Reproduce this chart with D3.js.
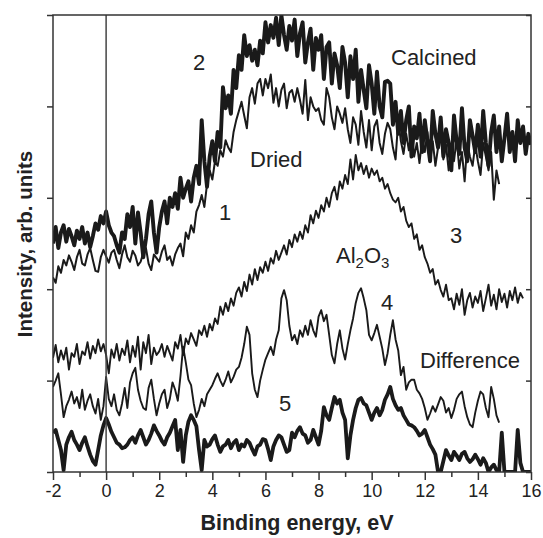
<!DOCTYPE html>
<html><head><meta charset="utf-8">
<script src="https://cdn.jsdelivr.net/npm/d3@7/dist/d3.min.js"></script>
<style>body{margin:0;background:#fff}svg{display:block}text{font-family:"Liberation Sans",Arial,sans-serif;fill:#222}</style>
</head><body><svg id="c" width="543" height="538"></svg>
<script>
// Binding energy grid: start and step (eV)
const eStart = -2.0, eStep = 0.1;
const xTicks = [-2,0,2,4,6,8,10,12,14,16];
const xMinorTicks = [-1,1,3,5,7,9,11,13,15];
const yTicks = [0,100,200,300,400,500];

// Curve 2: Calcined (thick)
const calcined = [
250,268,245,262,270,252,266,258,248,264,
255,268,250,262,246,258,272,265,280,272,
285,270,262,258,248,240,262,255,282,268,
290,250,284,262,235,255,282,296,262,240,
268,285,296,272,300,290,305,288,322,300,
310,318,296,322,335,315,385,340,312,345,
362,340,372,355,421,398,412,392,440,420,
456,440,478,455,467,450,462,445,472,458,
492,470,489,475,497,467,500,478,462,488,
472,495,455,480,492,448,470,485,440,475,
462,478,430,465,470,425,458,445,420,465,
448,410,455,430,462,405,440,418,398,445,
425,392,438,400,388,427,428,425,380,405,
370,395,360,385,400,345,378,365,392,350,
385,362,340,395,370,355,388,345,375,360,
330,390,362,348,398,355,340,385,368,350,
380,345,395,360,335,372,390,350,378,340,
365,392,350,372,340,385,360,378,348,370,
358];

// Curve 1: Dried
const dried = [
213,207,225,218,232,226,237,230,221,235,
243,228,226,238,245,232,220,219,235,243,
236,229,240,243,232,223,238,248,235,230,
242,237,226,230,240,245,228,221,238,234,
230,241,248,232,236,226,238,245,250,236,
262,255,270,262,285,292,303,290,315,330,
320,340,335,352,345,363,355,350,372,385,
395,405,390,376,410,420,403,425,430,412,
430,420,435,404,420,400,418,425,398,415,
418,405,420,407,392,429,385,410,400,395,
398,385,380,420,410,388,375,400,392,382,
398,375,360,388,380,358,395,372,355,385,
352,378,385,360,348,370,382,375,355,342,
385,362,348,370,352,375,345,360,338,365,
350,372,340,362,335,355,368,342,358,330,
355,340,365,332,350,318,360,345,335,358,
340,325,360,345,330,350,298,330,315];

// Curve 3: Al2O3
const alumina = [
125,139,120,133,123,136,112,130,126,140,
118,132,128,142,124,138,130,145,132,140,
128,108,134,125,140,122,135,128,144,120,
138,126,148,112,142,130,150,118,136,128,
132,140,126,138,130,122,142,135,150,128,
146,140,152,145,138,155,150,160,148,162,
155,168,162,181,172,185,176,190,182,196,
202,192,208,198,216,205,222,210,224,218,
230,220,234,228,242,232,240,248,238,254,
246,260,252,263,255,270,262,281,272,286,
278,292,285,300,290,305,312,298,318,310,
325,315,342,320,347,330,338,326,335,322,
332,325,330,318,322,310,315,305,298,295,
300,285,290,275,268,272,255,260,243,248,
235,228,218,222,205,210,199,192,205,188,
190,178,195,183,200,172,188,196,180,192,
185,198,176,190,205,182,194,178,200,186,
195,180,198,188,202,185,196,190];

// Curve 4: Difference (thin)
const diffThin = [
93,100,108,85,60,72,79,88,75,82,
70,90,68,78,85,72,64,80,57,72,
104,80,72,85,68,62,75,92,70,98,
108,114,90,78,70,68,92,101,80,62,
75,85,90,70,80,98,90,78,105,137,
120,101,95,75,60,68,80,72,85,90,
95,102,108,100,94,101,110,98,104,112,
115,125,140,159,150,108,90,82,100,112,
123,130,137,128,145,155,190,199,188,160,
144,150,140,155,148,160,150,166,155,148,
170,177,165,172,150,128,119,140,155,135,
123,140,155,168,185,196,201,190,177,150,
144,152,161,148,135,117,130,150,166,145,
133,106,115,90,98,101,101,90,86,80,
70,57,64,72,66,74,82,78,65,70,
59,68,80,85,88,72,60,52,49,65,
78,88,85,70,60,93,80,62,54];

// Curve 5: Difference (thick)
const diffThick = [
43,46,35,24,2,30,38,44,35,30,
24,32,38,28,19,12,8,24,40,51,
59,52,44,38,32,30,26,27,30,35,
38,32,40,46,38,30,35,42,51,45,
40,34,30,38,43,50,57,24,46,11,
40,55,62,57,50,24,2,35,28,30,
36,40,30,22,28,30,35,26,32,35,
24,30,28,35,32,25,19,28,30,36,
35,25,13,28,35,40,38,30,22,24,
43,38,45,49,42,40,32,35,46,38,
30,45,71,62,57,70,82,75,79,65,
57,15,40,57,70,79,81,75,73,65,
57,65,70,62,68,79,85,93,80,73,
68,70,62,57,52,51,49,45,40,42,
46,38,30,25,19,0,0,12,24,18,
13,22,18,13,20,22,15,11,14,19,
14,8,15,10,0,5,8,2,0,43,
0,0,0,0,0,46,10,0,0,0,
0];

const svg = d3.select("#c");
const W = 543, H = 538;
const m = {l:53, r:12, t:15, b:66};
const x = d3.scaleLinear().domain([-2,16]).range([m.l, W-m.r]);
const y = d3.scaleLinear().domain([0,500]).range([H-m.b, m.t]);

svg.append("defs").append("clipPath").attr("id","clip")
  .append("rect").attr("x",x(-2)).attr("y",y(500)).attr("width",x(16)-x(-2)).attr("height",y(0)-y(500));

const axisCol = "#333";
const g = svg.append("g").attr("clip-path","url(#clip)");

// zero line
svg.append("line").attr("x1",x(0)).attr("x2",x(0)).attr("y1",y(0)).attr("y2",y(500))
  .attr("stroke","#444").attr("stroke-width",1.5);

function pts(arr){ return arr.map((v,i)=>[eStart+i*eStep, v]); }
const line = d3.line().x(d=>x(d[0])).y(d=>y(d[1]));
const curves = [
  {d:alumina, w:1.9},
  {d:diffThin, w:1.9},
  {d:dried, w:2.0},
  {d:diffThick, w:3.8},
  {d:calcined, w:3.9}
];
curves.forEach(c=>{
  g.append("path").attr("d", line(pts(c.d))).attr("fill","none")
   .attr("stroke","#1a1a1a").attr("stroke-width",c.w).attr("stroke-linejoin","round");
});

// frame
svg.append("rect").attr("x",x(-2)).attr("y",y(500)).attr("width",x(16)-x(-2)).attr("height",y(0)-y(500))
  .attr("fill","none").attr("stroke",axisCol).attr("stroke-width",1.5);

// bottom axis
const xa = svg.append("g").attr("transform",`translate(0,${y(0)})`)
  .call(d3.axisBottom(x).tickValues(xTicks).tickSize(8).tickPadding(4).tickFormat(d => String(d)));
xa.select(".domain").remove();
xa.selectAll("line").attr("stroke",axisCol).attr("stroke-width",1.5);
xa.selectAll("text").attr("font-size",18).attr("fill","#222").style("font-family","Liberation Sans, Arial, sans-serif");
const xm = svg.append("g").attr("transform",`translate(0,${y(0)})`)
  .call(d3.axisBottom(x).tickValues(xMinorTicks).tickSize(5).tickFormat(""));
xm.select(".domain").remove();
xm.selectAll("line").attr("stroke",axisCol).attr("stroke-width",1.5);

// left axis (outward ticks, no labels)
const ya = svg.append("g").attr("transform",`translate(${x(-2)},0)`)
  .call(d3.axisLeft(y).tickValues(yTicks).tickSize(6).tickFormat(""));
ya.select(".domain").remove();
ya.selectAll("line").attr("stroke",axisCol).attr("stroke-width",1.5);
// right axis (inward ticks)
const yr = svg.append("g").attr("transform",`translate(${x(16)},0)`)
  .call(d3.axisLeft(y).tickValues(yTicks).tickSize(5).tickFormat(""));
yr.select(".domain").remove();
yr.selectAll("line").attr("stroke",axisCol).attr("stroke-width",1.5);

// axis titles
svg.append("text").attr("x",297).attr("y",530).attr("text-anchor","middle")
  .attr("font-size",21.5).attr("font-weight","bold").text("Binding energy, eV");
svg.append("text").attr("transform",`translate(32,${244}) rotate(-90)`)
  .attr("text-anchor","middle").attr("font-size",20.5).attr("font-weight","bold").text("Intensity, arb. units");

// annotations
const ann = [
  {t:"2", px:199, py:70, a:"middle"},
  {t:"Calcined", px:391, py:65, a:"start"},
  {t:"Dried", px:250, py:167, a:"start"},
  {t:"1", px:225, py:220, a:"middle"},
  {t:"3", px:456, py:243, a:"middle"},
  {t:"4", px:387, py:310, a:"middle"},
  {t:"Difference", px:420, py:368, a:"start"},
  {t:"5", px:285, py:411, a:"middle"}
];
ann.forEach(a=>{
  svg.append("text").attr("x",a.px).attr("y",a.py).attr("text-anchor",a.a)
    .attr("font-size",22).text(a.t);
});
const al = svg.append("text").attr("x",336).attr("y",263).attr("font-size",22);
al.append("tspan").text("Al");
al.append("tspan").attr("font-size",15).attr("dy",5).text("2");
al.append("tspan").attr("dy",-5).text("O");
al.append("tspan").attr("font-size",15).attr("dy",5).text("3");
</script></body></html>
